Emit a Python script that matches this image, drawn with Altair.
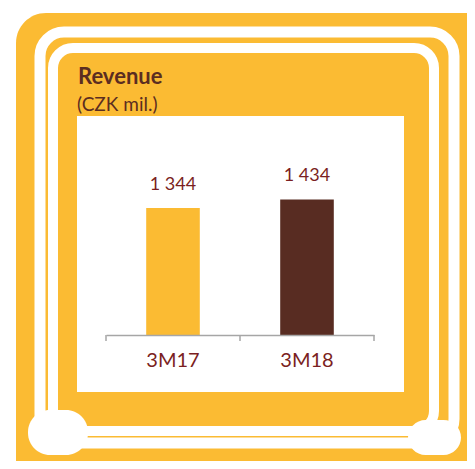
import altair as alt
import pandas as pd

# ---- data ----
categories = ["3M17", "3M18"]
values = [1344, 1434]
value_labels = ["1 344", "1 434"]
bar_colors = ["#FBBB33", "#582C22"]
title_text = "Revenue"
subtitle_text = "(CZK mil.)"

df = pd.DataFrame({
    "period": categories,
    "revenue": values,
    "label": value_labels,
    "color": bar_colors,
})

YELLOW = "#FBBB33"
BROWN = "#5B2D21"
LABEL = "#7B1F22"
AXIS = "#A6A6A6"
W, H = 459, 453
PAD_IN, PAD_OUT = 0.6, 0.3
X_RANGE = [98, 366]
STEP = (X_RANGE[1] - X_RANGE[0]) / (len(categories) - PAD_IN + 2 * PAD_OUT)
GAP = STEP * PAD_IN / 2  # distance from a bar edge to the category boundary


def one():
    return alt.Data(values=[{}])


# ---- decorative hand-drawn frame ----
frame = alt.Chart(one()).mark_rect(fill=YELLOW, cornerRadius=30).encode(
    x=alt.value(8), x2=alt.value(520), y=alt.value(5), y2=alt.value(520)
)
stroke_a = alt.Chart(one()).mark_rect(
    fillOpacity=0, stroke="white", strokeWidth=11, cornerRadius=24
).encode(x=alt.value(32), x2=alt.value(446), y=alt.value(24), y2=alt.value(435))
stroke_b = alt.Chart(one()).mark_rect(
    fillOpacity=0, stroke="white", strokeWidth=10, cornerRadius=20
).encode(x=alt.value(45), x2=alt.value(426), y=alt.value(40), y2=alt.value(423))
blob_l = alt.Chart(one()).mark_rect(fill="white", cornerRadius=22).encode(
    x=alt.value(20), x2=alt.value(80), y=alt.value(402), y2=alt.value(447)
)
blob_r = alt.Chart(one()).mark_rect(fill="white", cornerRadius=18).encode(
    x=alt.value(400), x2=alt.value(453), y=alt.value(412), y2=alt.value(447)
)
panel = alt.Chart(one()).mark_rect(fill="white").encode(
    x=alt.value(69), x2=alt.value(396), y=alt.value(108), y2=alt.value(384)
)

title = alt.Chart(one()).mark_text(
    text=title_text, font="Lato", fontSize=22, fontWeight="bold", color=BROWN,
    align="left", baseline="alphabetic"
).encode(x=alt.value(70), y=alt.value(76))
subtitle = alt.Chart(one()).mark_text(
    text=subtitle_text, font="Lato", fontSize=19, color=BROWN,
    align="left", baseline="alphabetic"
).encode(x=alt.value(69), y=alt.value(103))

# ---- bars ----
x_scale = alt.Scale(domain=categories, range=X_RANGE, paddingInner=PAD_IN, paddingOuter=PAD_OUT)
x_enc = alt.X(
    "period:N",
    sort=categories,
    scale=x_scale,
    axis=alt.Axis(
        title=None, offset=-126, domainColor=AXIS, domainWidth=1.5,
        ticks=False,
        labelFont="Lato", labelFontSize=20, labelColor=LABEL, labelPadding=15,
        labelAngle=0, grid=False, zindex=1,
    ),
)
y_scale = alt.Scale(domain=[0, 2000], range=[327, 138], zero=True, nice=False)

bars = alt.Chart(df).mark_bar().encode(
    x=x_enc,
    y=alt.Y("revenue:Q", scale=y_scale, axis=None),
    color=alt.Color("color:N", scale=None, legend=None),
)
labels = alt.Chart(df).mark_text(
    font="Lato", fontSize=18, color=LABEL, baseline="alphabetic", dy=-18
).encode(
    x=alt.X("period:N", sort=categories),
    y=alt.Y("revenue:Q", scale=y_scale, axis=None),
    text="label:N",
)

# axis ticks at the category boundaries
ticks_start = alt.Chart(df).mark_rule(color=AXIS, strokeWidth=1.5, xOffset=-GAP).encode(
    x=alt.X("period:N", sort=categories, bandPosition=0),
    y=alt.Y("zero:Q", scale=y_scale, axis=None),
    y2=alt.value(333),
).transform_calculate(zero="0")
ticks_end = alt.Chart(df).mark_rule(color=AXIS, strokeWidth=1.5, xOffset=GAP).encode(
    x=alt.X("period:N", sort=categories, bandPosition=1),
    y=alt.Y("zero:Q", scale=y_scale, axis=None),
    y2=alt.value(333),
).transform_calculate(zero="0").transform_filter(
    alt.datum.period == categories[-1]
)

chart = alt.layer(
    frame, stroke_a, stroke_b, blob_l, blob_r, panel, title, subtitle,
    bars, labels, ticks_start, ticks_end
).properties(
    width=W, height=H, padding=0,
    autosize=alt.AutoSizeParams(type="none"),
    background="white",
).configure_view(strokeWidth=0)

chart.save("out.html", embed_options={"renderer": "svg", "actions": False})
